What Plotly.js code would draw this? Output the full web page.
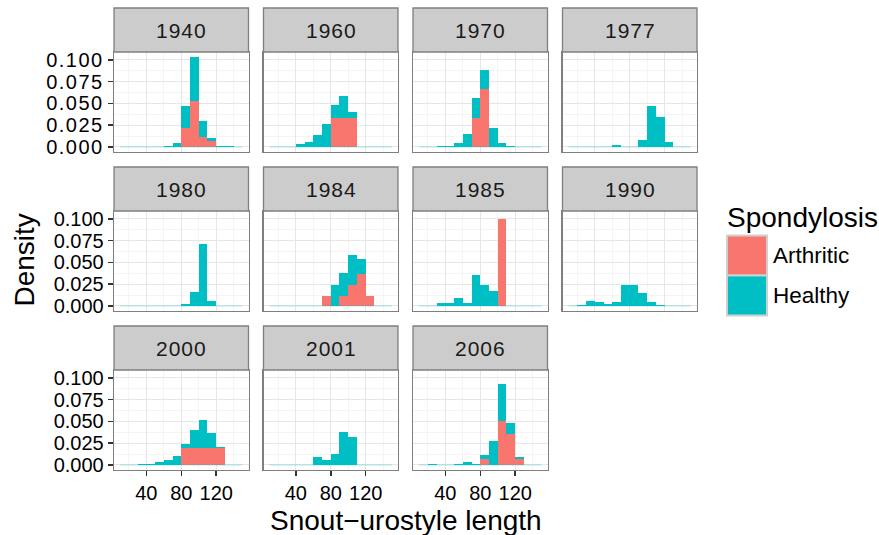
<!DOCTYPE html>
<html>
<head>
<meta charset="utf-8">
<script src="https://cdn.plot.ly/plotly-3.0.1.min.js"></script>
<style>
html,body{margin:0;padding:0;background:#fff}
#plot{width:879px;height:535px}
#plot .xtick text, #plot .ytick text{letter-spacing:1.5px}
</style>
</head>
<body>
<div id="plot"></div>
<script>
// ---- data (density per 10-unit bin of snout–urostyle length) ----
const binCenters = [15,25,35,45,55,65,75,85,95,105,115,125,135,145];
const binWidth = 10;
const years = ['1940','1960','1970','1977','1980','1984','1985','1990','2000','2001','2006'];
const groups = ['Arthritic','Healthy'];

const arth1940 = [0,0,0,0,0,0,0,0.0222,0.0529,0.0115,0.0073,0,0,0];
const heal1940 = [0,0,0,0,0,0.0012,0.0046,0.0249,0.0509,0.0184,0.0030,0.0006,0.0006,0];
const arth1960 = [0,0,0,0,0,0,0,0.0333,0.0333,0.0333,0,0,0,0];
const heal1960 = [0,0,0,0.0034,0.0057,0.0138,0.0264,0.0150,0.0253,0.0069,0,0,0,0];
const arth1970 = [0,0,0,0,0,0,0.0333,0.0667,0,0,0,0,0,0];
const heal1970 = [0,0,0.0008,0.0015,0.0046,0.0153,0.0234,0.0218,0.0222,0.0046,0.0012,0,0,0];
const arth1977 = [0,0,0,0,0,0,0,0,0,0,0,0,0,0];
const heal1977 = [0,0,0,0,0,0.0023,0,0,0.0080,0.0471,0.0345,0.0057,0,0];
const arth1980 = [0,0,0,0,0,0,0,0,0,0,0,0,0,0];
const heal1980 = [0,0,0,0,0,0,0,0.0027,0.0165,0.0708,0.0062,0,0,0];
const arth1984 = [0,0,0,0,0,0,0.0120,0,0.0120,0.0245,0.0367,0.0120,0,0];
const heal1984 = [0,0,0,0,0,0,0,0.0246,0.0254,0.0339,0.0170,0,0,0];
const arth1985 = [0,0,0,0,0,0,0,0,0,0.0995,0,0,0,0];
const heal1985 = [0,0,0.0031,0.0031,0.0096,0.0031,0.0350,0.0246,0.0169,0.0007,0,0,0,0];
const arth1990 = [0,0,0,0,0,0,0,0,0,0,0,0,0,0];
const heal1990 = [0,0.0015,0.0062,0.0050,0.0027,0.0050,0.0246,0.0235,0.0154,0.0050,0.0015,0,0,0];
const arth2000 = [0,0,0,0,0,0,0,0.0195,0.0195,0.0195,0.0195,0.0195,0,0];
const heal2000 = [0,0,0.0015,0.0015,0.0038,0.0061,0.0107,0.0049,0.0210,0.0324,0.0175,0.0015,0,0];
const arth2001 = [0,0,0,0,0,0,0,0,0,0,0,0,0,0];
const heal2001 = [0,0,0,0,0,0.0095,0.0061,0.0130,0.0382,0.0324,0,0,0,0];
const arth2006 = [0,0,0,0,0,0,0,0.0071,0,0.0500,0.0357,0.0071,0,0];
const heal2006 = [0,0.0008,0,0,0.0015,0.0038,0.0015,0.0047,0.0279,0.0431,0.0128,0.0017,0,0];

const arthritic = [arth1940,arth1960,arth1970,arth1977,arth1980,arth1984,arth1985,arth1990,arth2000,arth2001,arth2006];
const healthy   = [heal1940,heal1960,heal1970,heal1977,heal1980,heal1984,heal1985,heal1990,heal2000,heal2001,heal2006];

const xTickVals = [40,80,120];
const xTickText = ['40','80','120'];
const yTickVals = [0,0.025,0.05,0.075,0.1];
const yTickText = ['0.000','0.025','0.050','0.075','0.100'];

// ---- styling / layout ----
const W = 879, H = 535;
const colors = {Arthritic:'#F8766D', Healthy:'#00BFC4'};
const FONT = 'Liberation Sans, Arial, Helvetica, sans-serif';
const colX = [114, 263.5, 413, 562.5];
const panelW = 134.5;
const rowTop = [52, 211, 370];
const panelH = 99.5;
const stripH = 44;
const ncol = 4;
const nrow = 3;
const TICK_SIZE = 20, STRIP_SIZE = 21, TITLE_SIZE = 28, LEG_SIZE = 22.5;

const data = [];
const layout = {
  width: W, height: H,
  margin: {l:0, r:0, t:0, b:0},
  paper_bgcolor: '#fff', plot_bgcolor: '#fff',
  barmode: 'stack',
  showlegend: false,
  shapes: [], annotations: [],
  font: {family: FONT, color: '#000'}
};

years.forEach((yr, i) => {
  const r = Math.floor(i / ncol), c = i % ncol;
  const n = i === 0 ? '' : String(i + 1);
  const xa = 'x' + n, ya = 'y' + n;
  const x0 = colX[c], x1 = x0 + panelW;
  const yt = rowTop[r], yb = yt + panelH;
  const showX = r === nrow - 1;
  const showY = c === 0;

  // zero-height bins show as a faint baseline across the binned range
  data.push({
    type: 'scatter', mode: 'lines', xaxis: xa, yaxis: ya,
    x: [binCenters[0] - binWidth/2, binCenters[binCenters.length-1] + binWidth/2],
    y: [0, 0],
    line: {color: 'rgba(0,191,196,0.35)', width: 1},
    hoverinfo: 'skip'
  });
  [arthritic[i], healthy[i]].forEach((vals, g) => {
    data.push({
      type: 'bar', name: groups[g], xaxis: xa, yaxis: ya,
      x: binCenters, y: vals,
      width: binCenters.map(() => binWidth),
      marker: {color: colors[groups[g]], line: {width: 0}},
      legendgroup: groups[g]
    });
  });

  layout['xaxis' + n] = {
    domain: [x0 / W, x1 / W], anchor: ya, range: [3, 157],
    tickmode: 'array', tickvals: xTickVals, ticktext: xTickText,
    showticklabels: showX, ticks: showX ? 'outside' : '', ticklen: 5, tickwidth: 1.5, tickcolor: '#333',
    tickfont: {family: FONT, size: TICK_SIZE, color: '#000'},
    showgrid: true, gridcolor: '#e6e6e6', gridwidth: 1,
    minor: {tickvals: [20,60,100,140], showgrid: true, gridcolor: '#f4f4f4', gridwidth: 1, ticks: ''},
    showline: true, mirror: true, linecolor: '#7f7f7f', linewidth: 1.3,
    zeroline: false, fixedrange: true
  };
  layout['yaxis' + n] = {
    domain: [1 - yb / H, 1 - yt / H], anchor: xa, range: [-0.0052, 0.109],
    tickmode: 'array', tickvals: yTickVals, ticktext: yTickText,
    showticklabels: showY, ticks: showY ? 'outside' : '', ticklen: 5, tickwidth: 1.5, tickcolor: '#333',
    tickfont: {family: FONT, size: TICK_SIZE, color: '#000'},
    showgrid: true, gridcolor: '#e6e6e6', gridwidth: 1,
    minor: {tickvals: [0.0125,0.0375,0.0625,0.0875], showgrid: true, gridcolor: '#f4f4f4', gridwidth: 1, ticks: ''},
    showline: true, mirror: true, linecolor: '#7f7f7f', linewidth: 1.3,
    zeroline: false, fixedrange: true
  };

  // facet strip
  layout.shapes.push({
    type: 'rect', xref: 'paper', yref: 'paper',
    x0: x0 / W, x1: x1 / W, y0: 1 - yt / H, y1: 1 - (yt - stripH) / H,
    fillcolor: '#cccccc', line: {color: '#7f7f7f', width: 1.3}, layer: 'above'
  });
  layout.annotations.push({
    xref: 'paper', yref: 'paper', x: (x0 + x1) / 2 / W + 0.5 / W, y: 1 - (yt - stripH / 2) / H,
    text: '<span style="letter-spacing:1px">' + yr + '</span>', showarrow: false, xanchor: 'center', yanchor: 'middle',
    font: {family: FONT, size: STRIP_SIZE, color: '#1a1a1a'}
  });
});

// axis titles
layout.annotations.push({
  xref: 'paper', yref: 'paper', x: (colX[0] + colX[3] + panelW) / 2 / W, y: 1 - 520 / H,
  text: 'Snout\u2212urostyle length', showarrow: false, xanchor: 'center', yanchor: 'middle',
  font: {family: FONT, size: TITLE_SIZE, color: '#000'}
});
layout.annotations.push({
  xref: 'paper', yref: 'paper', x: 24 / W, y: 1 - 260.5 / H, textangle: -90,
  text: 'Density', showarrow: false, xanchor: 'center', yanchor: 'middle',
  font: {family: FONT, size: TITLE_SIZE, color: '#000'}
});

// legend (drawn manually to match ggplot keys)
layout.annotations.push({
  xref: 'paper', yref: 'paper', x: 725 / W, y: 1 - 217 / H,
  text: 'Spondylosis', showarrow: false, xanchor: 'left', yanchor: 'middle',
  font: {family: FONT, size: TITLE_SIZE, color: '#000'}
});
groups.forEach((g, k) => {
  const ky = 235.5 + k * 40;
  layout.shapes.push({
    type: 'rect', xref: 'paper', yref: 'paper',
    x0: 727 / W, x1: 767 / W, y0: 1 - (ky + 40) / H, y1: 1 - ky / H,
    fillcolor: colors[g], line: {color: '#cfcfcf', width: 2}
  });
  layout.annotations.push({
    xref: 'paper', yref: 'paper', x: 771 / W, y: 1 - (ky + 20) / H,
    text: g, showarrow: false, xanchor: 'left', yanchor: 'middle',
    font: {family: FONT, size: LEG_SIZE, color: '#000'}
  });
});

Plotly.newPlot('plot', data, layout, {staticPlot: true, displayModeBar: false});
</script>
</body>
</html>
